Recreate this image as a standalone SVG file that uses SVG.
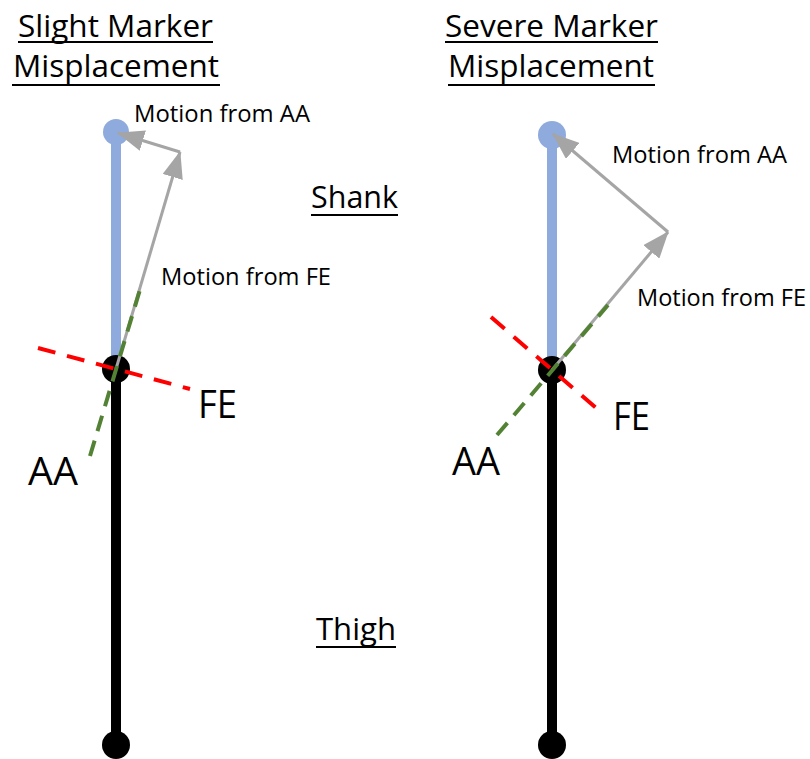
<svg xmlns="http://www.w3.org/2000/svg" width="810" height="759" viewBox="0 0 810 759">
  <style>
    text { font-family: "Open Sans", "Noto Sans", "Liberation Sans", sans-serif; fill: #000; }
    .title { font-size: 31px; }
    .small { font-size: 23px; }
    .axis-label { font-size: 38px; }
    .uline { stroke: #000; stroke-width: 2.2; }
    .shank { stroke: #8FAADC; stroke-width: 10; }
    .thigh { stroke: #000; stroke-width: 10; }
    .marker-dot { fill: #8FAADC; }
    .joint { fill: #000; }
    .motion { stroke: #A5A5A5; stroke-width: 3; fill: none; marker-end: url(#arrow); }
    .fe-axis { stroke: #FF0000; stroke-width: 4; stroke-dasharray: 18 12; fill: none; }
    .aa-axis { stroke: #548235; stroke-width: 4; stroke-dasharray: 16 10; fill: none; }
  </style>
  <defs>
    <marker id="arrow" markerUnits="userSpaceOnUse" viewBox="0 0 27 21" refX="26" refY="10.5" markerWidth="27" markerHeight="21" orient="auto">
      <path d="M0,0 L27,10.5 L0,21 z" fill="#A5A5A5"/>
    </marker>
  </defs>

  <rect width="810" height="759" fill="#FFFFFF"/>

  <!-- headings -->
  <g id="slight-title">
    <text class="title" x="18" y="37" textLength="195" lengthAdjust="spacingAndGlyphs">Slight Marker</text>
    <line class="uline" x1="18" y1="42" x2="213" y2="42"/>
    <text class="title" x="13" y="77" textLength="206" lengthAdjust="spacingAndGlyphs">Misplacement</text>
    <line class="uline" x1="12" y1="85" x2="220" y2="85"/>
  </g>
  <g id="severe-title">
    <text class="title" x="445" y="37" textLength="213" lengthAdjust="spacingAndGlyphs">Severe Marker</text>
    <line class="uline" x1="445" y1="42" x2="658" y2="42"/>
    <text class="title" x="448" y="77" textLength="206" lengthAdjust="spacingAndGlyphs">Misplacement</text>
    <line class="uline" x1="448" y1="85" x2="655" y2="85"/>
  </g>
  <g id="shank-label">
    <text class="title" x="311" y="208" textLength="87" lengthAdjust="spacingAndGlyphs">Shank</text>
    <line class="uline" x1="311" y1="215" x2="398" y2="215"/>
  </g>
  <g id="thigh-label">
    <text class="title" x="316" y="640" textLength="80" lengthAdjust="spacingAndGlyphs">Thigh</text>
    <line class="uline" x1="316" y1="647" x2="396" y2="647"/>
  </g>

  <!-- slight misplacement: segments -->
  <g id="slight-shank">
    <line class="shank" x1="116" y1="132" x2="116" y2="372"/>
    <circle class="marker-dot" cx="116" cy="132" r="13"/>
  </g>
  <g id="slight-thigh">
    <line class="thigh" x1="116" y1="370" x2="116" y2="745"/>
    <circle class="joint" cx="116" cy="369" r="14"/>
    <circle class="joint" cx="116" cy="745" r="14"/>
  </g>

  <!-- severe misplacement: segments -->
  <g id="severe-shank">
    <line class="shank" x1="552" y1="135" x2="552" y2="380"/>
    <circle class="marker-dot" cx="552" cy="135" r="14"/>
  </g>
  <g id="severe-thigh">
    <line class="thigh" x1="552" y1="370" x2="552" y2="745"/>
    <circle class="joint" cx="552" cy="370" r="14"/>
    <circle class="joint" cx="552" cy="745" r="14"/>
  </g>

  <!-- motion vectors and joint axes -->
  <g id="connectors">
    <line class="motion" x1="116" y1="369" x2="180" y2="152"/>
    <line class="motion" x1="180" y1="152" x2="118" y2="133"/>
    <line class="aa-axis" x1="90" y1="456" x2="142" y2="283"/>
    <line class="fe-axis" x1="38" y1="348" x2="190" y2="389"/>

    <line class="motion" x1="552" y1="370" x2="668" y2="232"/>
    <line class="motion" x1="668" y1="232" x2="553" y2="134"/>
    <line class="aa-axis" x1="497" y1="435" x2="608" y2="305"/>
    <line class="fe-axis" x1="491" y1="317" x2="603" y2="414"/>
  </g>

  <!-- labels -->
  <g id="slight-labels">
    <text class="small" x="134" y="122" textLength="176" lengthAdjust="spacingAndGlyphs">Motion from AA</text>
    <text class="small" x="161" y="285" textLength="170" lengthAdjust="spacingAndGlyphs">Motion from FE</text>
    <text class="axis-label" x="198" y="418" textLength="39" lengthAdjust="spacingAndGlyphs">FE</text>
    <text class="axis-label" x="28" y="485" textLength="50" lengthAdjust="spacingAndGlyphs">AA</text>
  </g>
  <g id="severe-labels">
    <text class="small" x="612" y="163" textLength="175" lengthAdjust="spacingAndGlyphs">Motion from AA</text>
    <text class="small" x="637" y="306" textLength="169" lengthAdjust="spacingAndGlyphs">Motion from FE</text>
    <text class="axis-label" x="613" y="430" textLength="37" lengthAdjust="spacingAndGlyphs">FE</text>
    <text class="axis-label" x="452" y="475" textLength="48" lengthAdjust="spacingAndGlyphs">AA</text>
  </g>
</svg>
